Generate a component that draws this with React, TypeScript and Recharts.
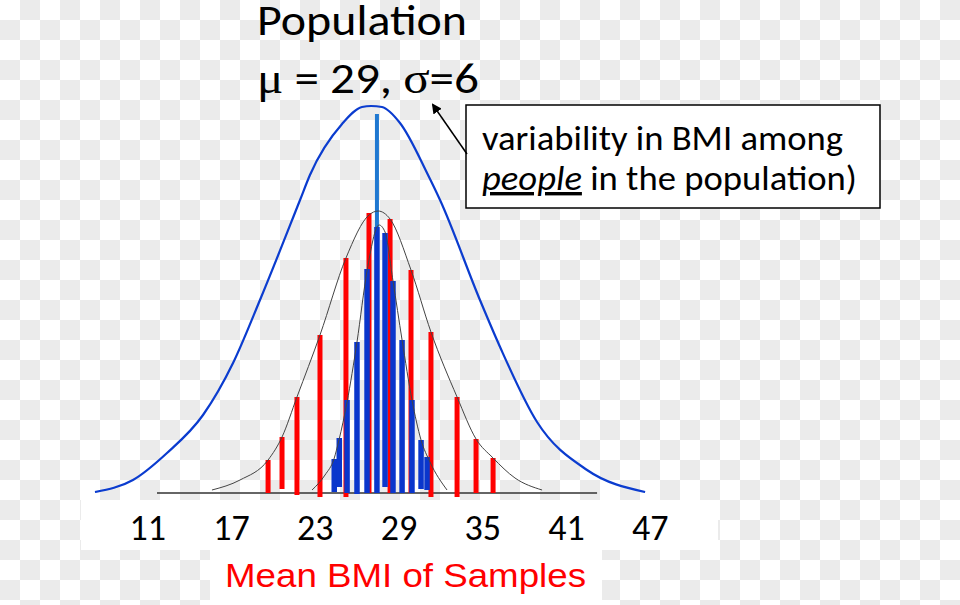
import React from "react";
import { ComposedChart, Line, ReferenceLine, XAxis, YAxis } from "recharts";

// x in BMI units, y in relative frequency (0-100)
const tickValues = [11, 17, 23, 29, 35, 41, 47];

const popCurveX = [7.22, 9.94, 12.38, 14.96, 17.11, 19.04, 21.91, 22.62, 24.92, 26.35, 27.0, 27.78, 29.07, 31.08, 31.94, 34.8, 36.24, 38.89, 42.47, 46.63];
const popCurveY = [0.25, 3.25, 10, 19.5, 32.5, 48.25, 73.25, 79.5, 92.25, 96.5, 96.75, 96.5, 92.5, 79.5, 73.25, 48.25, 36.5, 17.75, 5.75, 0.25];

const wideCurveX = [15.6, 17.61, 19.62, 20.62, 21.69, 23.34, 25.2, 26.85, 27.5, 28.36, 29.86, 31.29, 33.16, 34.52, 35.74, 37.31, 39.25];
const wideCurveY = [0.75, 3.25, 8.25, 14, 24, 39.5, 58.75, 69.5, 70.5, 68.5, 55.75, 40.25, 24, 13.5, 8.75, 3.75, 0.75];

const narrowCurveX = [22.77, 23.7, 24.34, 24.7, 25.28, 25.99, 26.71, 27.57, 28.0, 28.57, 29.22, 29.93, 30.58, 31.22, 32.44];
const narrowCurveY = [0.75, 4.5, 8.5, 13.25, 22.75, 37.75, 55.5, 67, 65.25, 53, 38.25, 23.25, 13.25, 7.75, 0.75];

const redBarX = [19.62, 20.62, 21.69, 23.34, 25.2, 26.85, 28.36, 29.86, 31.29, 33.16, 34.52, 35.74];
const redBarTop = [8.25, 14, 24, 39.5, 58.75, 70, 68.5, 55.75, 40.25, 24, 13.5, 8.75];
const redBarBase = [0, 1, -0.5, -1, -1, 0, 0, 0, -1, -1, 0, 0];

const blueBarX = [24.36, 24.72, 25.28, 25.99, 26.71, 27.42, 28.0, 28.57, 29.22, 29.93, 30.58, 31.01];
const blueBarTop = [8.5, 13.75, 23.25, 37.75, 56, 66.5, 65, 53, 38.25, 23.25, 13.25, 9];
const blueBarBase = [0.25, 1.5, 0, -0.25, 0, 0, 1.5, 0, 0, 0, 1, 0.75];

const popMean = 27.42;
const popMeanTop = 94.75;
const baselineFrom = 11.66;
const baselineTo = 43.19;

const toPoints = (xs: number[], ys: number[]) => xs.map((x, i) => ({ x, y: ys[i] }));

const popCurve = toPoints(popCurveX, popCurveY);
const wideCurve = toPoints(wideCurveX, wideCurveY);
const narrowCurve = toPoints(narrowCurveX, narrowCurveY);

const calibri = "Carlito, Lato, sans-serif";

export default function App() {
  return (
    <div
      style={{
        position: "absolute",
        left: 0,
        top: 0,
        width: 960,
        height: 605,
        background: "repeating-conic-gradient(#ebebeb 0% 25%, #ffffff 0% 50%) 0 0 / 40px 40px",
        overflow: "hidden",
      }}
    >
      <div style={{ position: "absolute", left: 81, top: 500, width: 637, height: 50, background: "#fff" }} />
      <div style={{ position: "absolute", left: 210, top: 550, width: 392, height: 55, background: "#fff" }} />
      <div style={{ position: "absolute", left: 466, top: 105, width: 414, height: 103, background: "#fff" }} />

      <div style={{ position: "absolute", left: 0, top: 0 }}>
        <ComposedChart width={960} height={605} margin={{ top: 93, right: 226, bottom: 72, left: 64 }}>
          <XAxis
            type="number"
            dataKey="x"
            domain={[5, 53]}
            ticks={tickValues}
            allowDataOverflow
            axisLine={false}
            tickLine={false}
            tickSize={0}
            tickMargin={21}
            height={40}
            tick={{ fill: "#000", fontSize: 36, fontFamily: calibri }}
          />
          <YAxis type="number" hide domain={[0, 100]} allowDataOverflow />

          <ReferenceLine
            segment={[{ x: baselineFrom, y: 0 }, { x: baselineTo, y: 0 }]}
            stroke="#333"
            strokeWidth={1.5}
            ifOverflow="visible"
          />
          <ReferenceLine
            segment={[{ x: popMean, y: 0 }, { x: popMean, y: popMeanTop }]}
            stroke="#1f78d1"
            strokeWidth={4}
            ifOverflow="visible"
          />
          {redBarX.map((x, i) => (
            <ReferenceLine
              key={"r" + i}
              segment={[{ x, y: redBarBase[i] }, { x, y: redBarTop[i] }]}
              stroke="#ff0000"
              strokeWidth={5}
              ifOverflow="visible"
            />
          ))}
          {blueBarX.map((x, i) => (
            <ReferenceLine
              key={"b" + i}
              segment={[{ x, y: blueBarBase[i] }, { x, y: blueBarTop[i] }]}
              stroke="#0a36cc"
              strokeWidth={5.5}
              ifOverflow="visible"
            />
          ))}

          <Line data={wideCurve} dataKey="y" type="monotone" stroke="#444" strokeWidth={1} dot={false} isAnimationActive={false} />
          <Line data={narrowCurve} dataKey="y" type="monotone" stroke="#444" strokeWidth={1} dot={false} isAnimationActive={false} />
          <Line data={popCurve} dataKey="y" type="monotone" stroke="#0b3ccf" strokeWidth={2.2} dot={false} isAnimationActive={false} />
        </ComposedChart>
      </div>

      <svg width={960} height={605} style={{ position: "absolute", left: 0, top: 0, pointerEvents: "none" }}>
        <defs>
          <marker id="head" markerWidth="10" markerHeight="10" refX="8" refY="5" orient="auto" markerUnits="userSpaceOnUse">
            <path d="M0,0 L10,5 L0,10 z" fill="#000" />
          </marker>
        </defs>
        <text x={257} y={35} fontSize={44} fontFamily={calibri} fill="#000" textLength={210} lengthAdjust="spacingAndGlyphs">
          Population
        </text>
        <text x={257} y={93} fontSize={44} fontFamily={calibri} fill="#000" textLength={222} lengthAdjust="spacingAndGlyphs">
          <tspan fontFamily="'Liberation Serif', serif">μ</tspan>
          <tspan> = 29, </tspan>
          <tspan fontFamily="'Liberation Serif', serif">σ</tspan>
          <tspan>=6</tspan>
        </text>
        <rect x={466} y={105} width={414} height={103} fill="none" stroke="#000" strokeWidth={1.5} />
        <text x={482} y={150} fontSize={34} fontFamily={calibri} fill="#000" textLength={361} lengthAdjust="spacingAndGlyphs">
          variability in BMI among
        </text>
        <text x={482} y={190} fontSize={34} fontFamily={calibri} fill="#000" textLength={375} lengthAdjust="spacingAndGlyphs">
          <tspan fontStyle="italic" textDecoration="underline">people</tspan>
          <tspan> in the population)</tspan>
        </text>
        <line x1={467} y1={154} x2={433} y2={105} stroke="#000" strokeWidth={1.5} markerEnd="url(#head)" />
        <text
          x={225}
          y={587}
          fontSize={34}
          fontFamily="'Liberation Sans', Arial, sans-serif"
          fill="#ff0000"
          textLength={361}
          lengthAdjust="spacingAndGlyphs"
        >
          Mean BMI of Samples
        </text>
      </svg>
    </div>
  );
}
